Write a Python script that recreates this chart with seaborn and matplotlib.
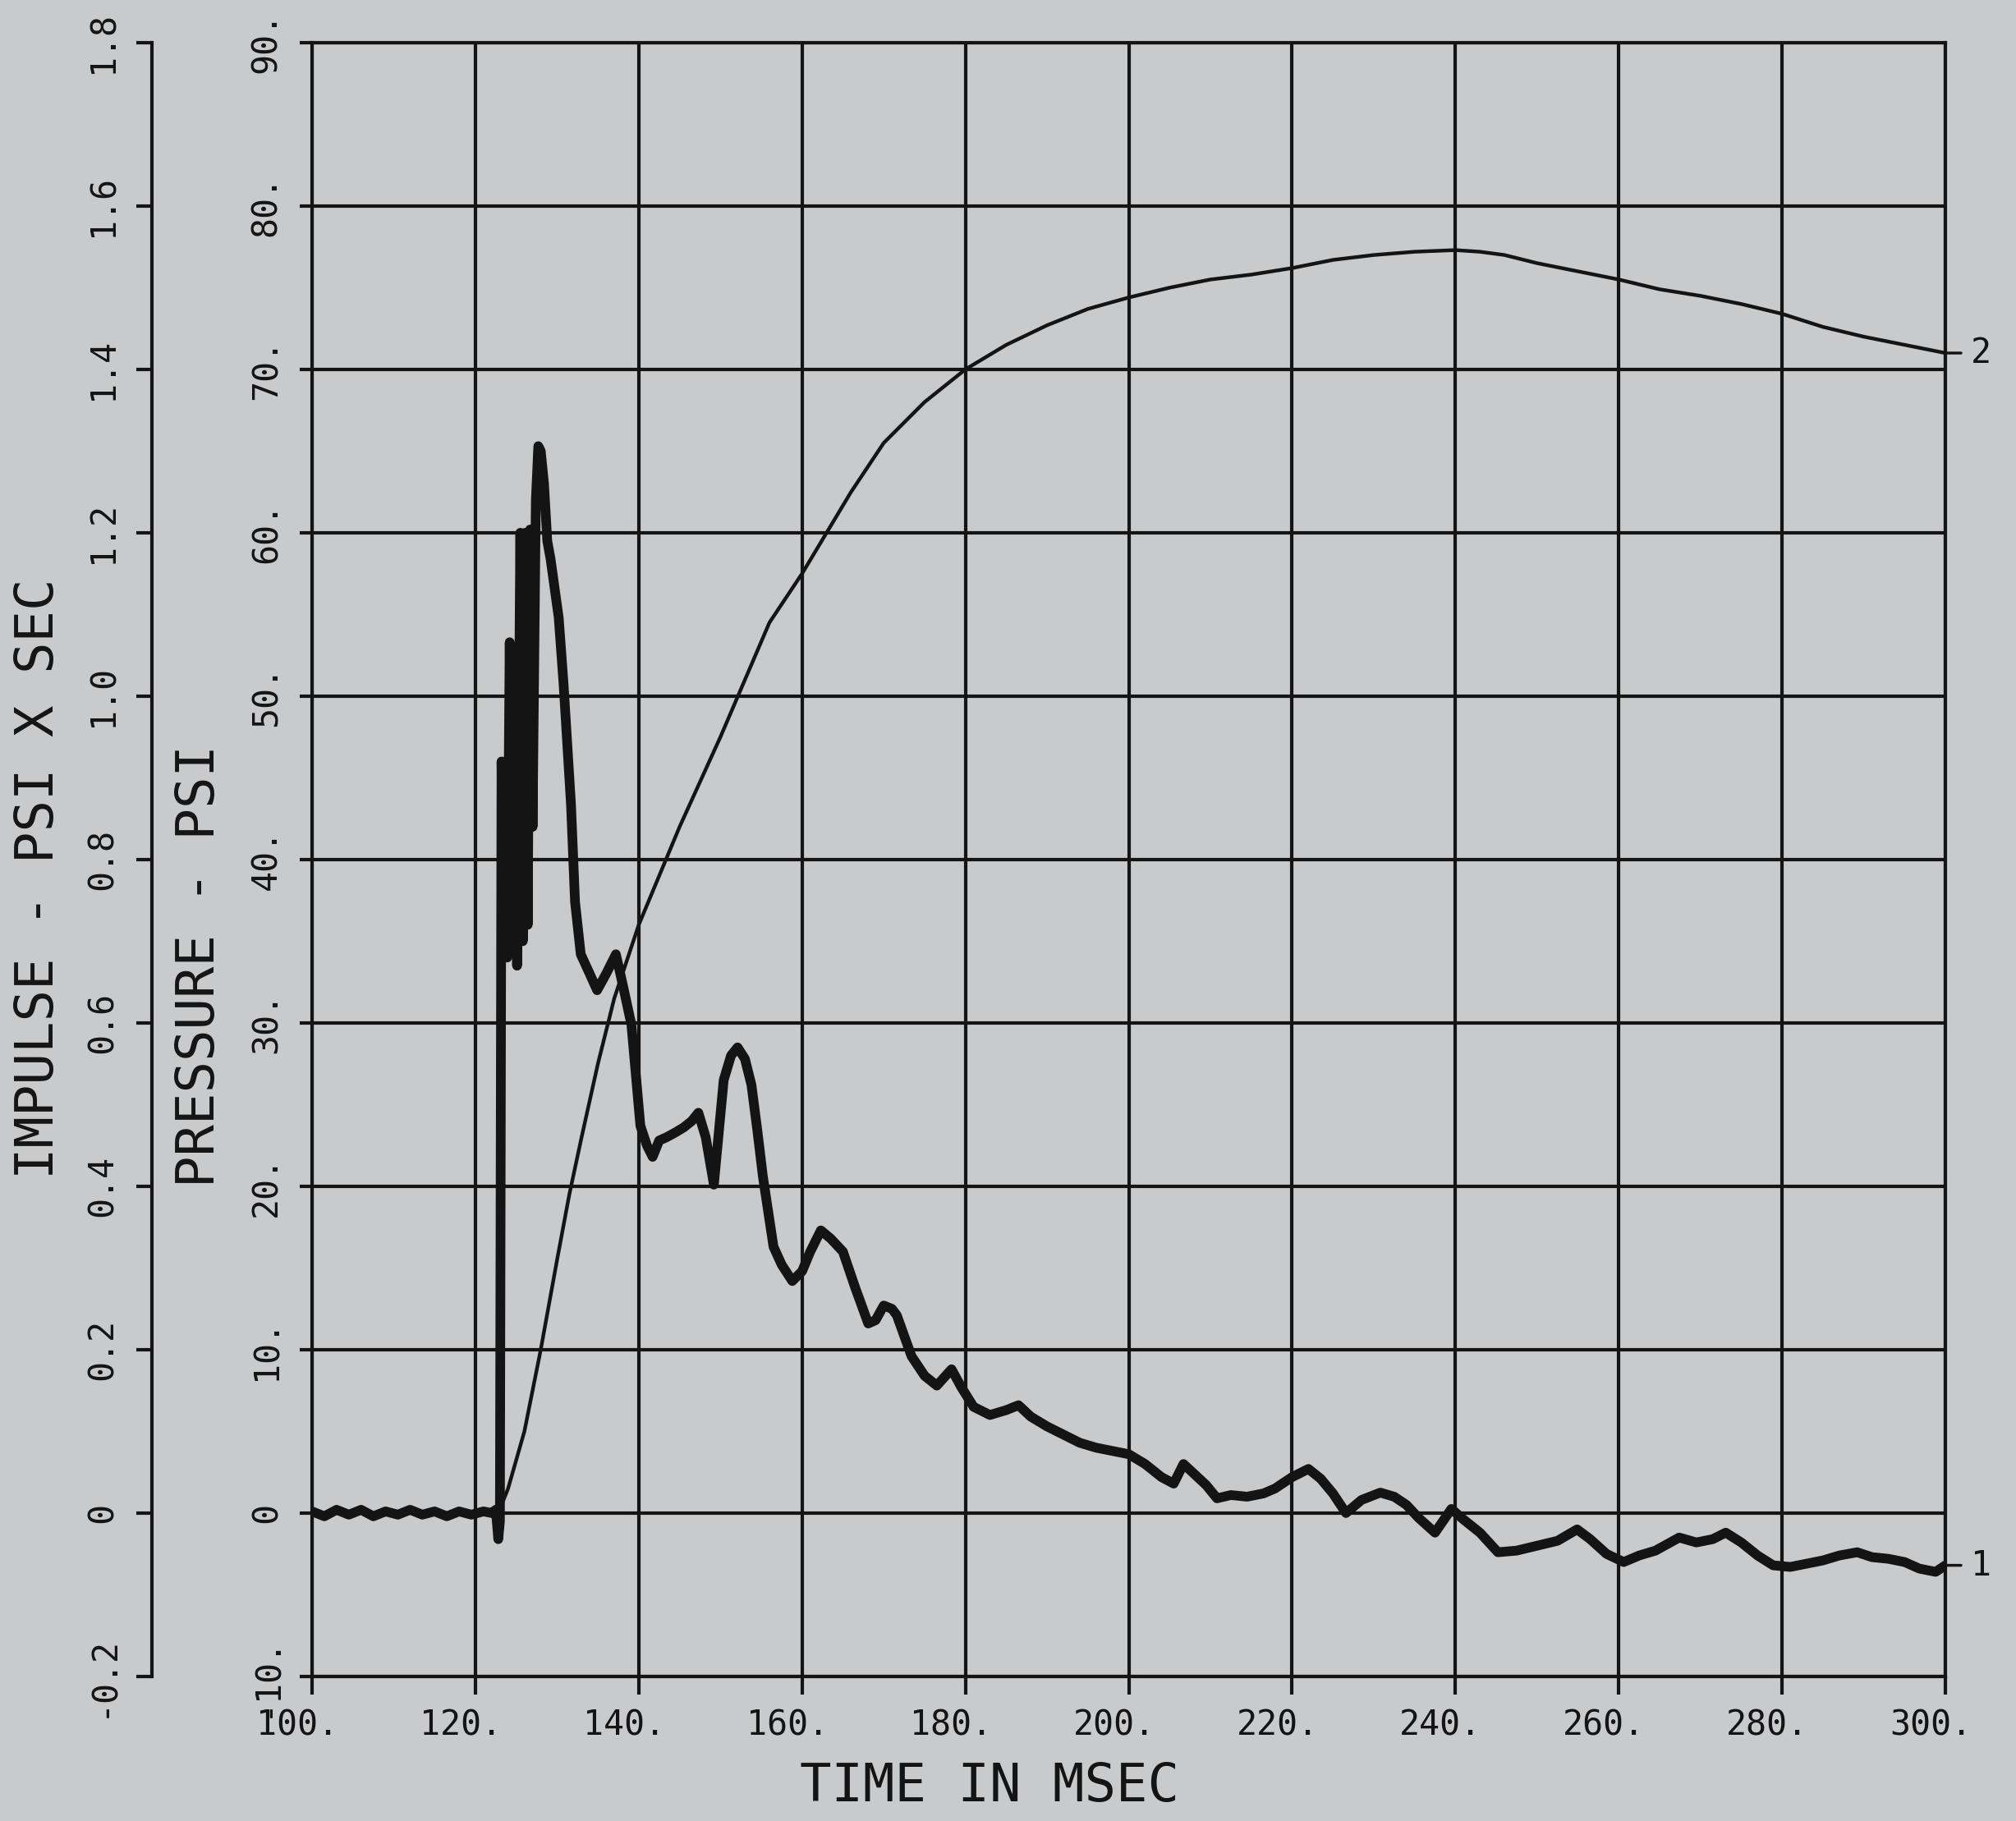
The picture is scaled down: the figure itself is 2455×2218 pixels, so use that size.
import matplotlib
matplotlib.use('Agg')
import matplotlib.pyplot as plt
import matplotlib.transforms as mtransforms
import pandas as pd
import seaborn as sns

# curve 1: pressure trace (psi)
pressure_time = [100.0, 101.5, 103.0, 104.5, 106.0, 107.5, 109.0, 110.5, 112.0, 113.5,
                 115.0, 116.5, 118.0, 119.5, 121.0, 122.0, 122.5, 122.8, 123.0, 123.2,
                 123.4, 123.6, 123.9, 124.2, 124.5, 124.8, 125.1, 125.5, 125.8, 126.1,
                 126.4, 126.7, 127.0, 127.4, 127.7, 128.0, 128.4, 128.8, 129.2, 130.2,
                 130.8, 131.7, 132.2, 132.9, 134.0, 134.9, 136.0, 137.2, 138.1, 139.1,
                 140.2, 141.0, 141.7, 142.5, 143.4, 144.5, 145.5, 146.5, 147.3, 148.2,
                 149.2, 150.4, 151.3, 152.1, 153.0, 153.8, 154.5, 155.2, 156.5, 157.5,
                 158.8, 160.0, 161.0, 162.3, 163.5, 165.0, 166.5, 168.1, 169.0, 170.0,
                 171.0, 171.6, 173.4, 175.0, 176.5, 178.3, 179.5, 181.0, 183.0, 185.0,
                 186.5, 188.0, 190.0, 192.0, 194.0, 196.0, 198.0, 200.0, 202.0, 204.0,
                 205.5, 206.7, 208.0, 209.5, 210.8, 212.5, 214.5, 216.5, 217.9, 220.0,
                 222.0, 223.5, 225.0, 226.6, 228.5, 230.8, 232.5, 234.0, 235.5, 237.5,
                 239.5, 241.0, 243.0, 245.2, 247.5, 250.0, 252.5, 254.9, 256.5, 258.5,
                 260.6, 262.5, 264.5, 267.4, 269.5, 271.5, 273.1, 275.0, 277.0, 278.9,
                 281.0, 283.0, 285.0, 287.0, 289.2, 291.0, 293.0, 295.0, 296.8, 298.8,
                 300.0]
pressure_psi = [0.1, -0.2, 0.2, -0.1, 0.2, -0.2, 0.1, -0.1, 0.2, -0.1,
                0.1, -0.2, 0.1, -0.1, 0.1, 0.0, 0.2, -1.6, -0.5, 46.0,
                36.0, 46.0, 34.0, 53.3, 35.0, 53.0, 33.5, 60.0, 35.0, 60.0,
                36.0, 60.2, 42.0, 62.0, 65.3, 65.0, 63.0, 59.5, 58.4, 54.8,
                50.7, 43.4, 37.4, 34.2, 33.0, 32.0, 33.0, 34.2, 32.2, 29.9,
                23.7, 22.5, 21.8, 22.8, 23.0, 23.3, 23.6, 24.0, 24.5, 23.0,
                20.1, 26.5, 28.0, 28.5, 27.8, 26.2, 23.5, 20.6, 16.3, 15.2,
                14.2, 14.8, 16.0, 17.3, 16.8, 16.0, 13.8, 11.6, 11.8, 12.7,
                12.5, 12.1, 9.6, 8.4, 7.8, 8.8, 7.7, 6.5, 6.0, 6.3,
                6.6, 5.9, 5.3, 4.8, 4.3, 4.0, 3.8, 3.6, 3.0, 2.2,
                1.8, 3.0, 2.4, 1.7, 0.9, 1.1, 1.0, 1.2, 1.5, 2.2,
                2.7, 2.1, 1.2, 0.0, 0.8, 1.25, 1.0, 0.5, -0.3, -1.2,
                0.25, -0.4, -1.2, -2.4, -2.3, -2.0, -1.7, -1.0, -1.6, -2.5,
                -3.0, -2.6, -2.3, -1.5, -1.8, -1.6, -1.2, -1.8, -2.6, -3.2,
                -3.3, -3.1, -2.9, -2.6, -2.4, -2.7, -2.8, -3.0, -3.4, -3.6,
                -3.2]

# curve 2: impulse (psi x sec)
impulse_time = [100, 122.8, 124, 126, 128, 130, 131.5, 133, 135, 137, 140, 145, 150,
                153, 156, 160, 163, 166, 170, 175, 180, 185, 190, 195, 200, 205, 210,
                215, 220, 225, 230, 235, 240, 243, 246, 250, 255, 260, 265, 270, 275,
                280, 285, 290, 295, 300]
impulse_psisec = [0.0, 0.0, 0.03, 0.10, 0.20, 0.31, 0.39, 0.46, 0.55, 0.63, 0.72, 0.84,
                  0.95, 1.02, 1.09, 1.15, 1.20, 1.25, 1.31, 1.36, 1.40, 1.43, 1.454,
                  1.474, 1.488, 1.50, 1.51, 1.516, 1.524, 1.534, 1.54, 1.544, 1.546,
                  1.544, 1.54, 1.53, 1.52, 1.51, 1.498, 1.49, 1.48, 1.468, 1.452, 1.44,
                  1.43, 1.42]

time_ticks = [100, 120, 140, 160, 180, 200, 220, 240, 260, 280, 300]
time_labels = ["100.", "120.", "140.", "160.", "180.", "200.", "220.", "240.", "260.", "280.", "300."]
pressure_ticks = [-10, 0, 10, 20, 30, 40, 50, 60, 70, 80, 90]
pressure_labels = ["-10.", "0", "10.", "20.", "30.", "40.", "50.", "60.", "70.", "80.", "90."]
impulse_ticks = [-0.2, 0.0, 0.2, 0.4, 0.6, 0.8, 1.0, 1.2, 1.4, 1.6, 1.8]
impulse_labels = ["-0.2", "0", "0.2", "0.4", "0.6", "0.8", "1.0", "1.2", "1.4", "1.6", "1.8"]

BG = '#c9cacc'
INK = '#141414'

sns.set_style("ticks")
plt.rcParams['font.family'] = ['DejaVu Sans Mono', 'DejaVu Sans']

df_p = pd.DataFrame({'t': pressure_time, 'p': pressure_psi})
df_i = pd.DataFrame({'t': impulse_time, 'i': impulse_psisec})

fig = plt.figure(figsize=(24.55, 22.18), dpi=100, facecolor=BG)
ax = fig.add_axes([0.1548, 0.0794, 0.8102, 0.8972], facecolor=BG)

# grid + frame
ax.set_xlim(100, 300)
ax.set_ylim(-10, 90)
ax.set_xticks(time_ticks)
ax.set_xticklabels(time_labels)
ax.set_yticks(pressure_ticks)
ax.set_yticklabels(pressure_labels)
ax.grid(True, color=INK, linewidth=3.0)
ax.set_axisbelow(True)
for s in ax.spines.values():
    s.set_color(INK)
    s.set_linewidth(3.0)
ax.tick_params(axis='x', direction='out', length=16, width=3, color=INK,
               labelsize=30, labelcolor=INK, pad=12)
ax.tick_params(axis='y', direction='out', length=11, width=3, color=INK,
               labelsize=30, labelcolor=INK, pad=14, labelrotation=90)
for lab in ax.get_yticklabels():
    lab.set_va('center')
# plotter labels sit slightly left of the tick
shift = mtransforms.ScaledTranslation(-18 / 100, 0, fig.dpi_scale_trans)
for lab in ax.get_xticklabels():
    lab.set_transform(lab.get_transform() + shift)

sns.lineplot(data=df_p, x='t', y='p', ax=ax, color=INK, linewidth=8.5,
             estimator=None, errorbar=None, sort=False)

# impulse axis (outer left)
ax2 = ax.twinx()
ax2.set_ylim(-0.2, 1.8)
ax2.set_yticks(impulse_ticks)
ax2.set_yticklabels(impulse_labels)
ax2.patch.set_visible(False)
ax2.yaxis.set_ticks_position('left')
ax2.yaxis.set_label_position('left')
ax2.spines['left'].set_position(('axes', -0.098))
for k in ['right', 'top', 'bottom']:
    ax2.spines[k].set_visible(False)
ax2.spines['left'].set_color(INK)
ax2.spines['left'].set_linewidth(3.0)
ax2.tick_params(axis='y', direction='out', length=14, width=3, color=INK,
                labelsize=30, labelcolor=INK, pad=14, labelrotation=90)
for lab in ax2.get_yticklabels():
    lab.set_va('center')

sns.lineplot(data=df_i, x='t', y='i', ax=ax2, color=INK, linewidth=3.2,
             estimator=None, errorbar=None, sort=False)

ax.set_xlabel('')
ax.set_ylabel('')
ax2.set_xlabel('')
ax2.set_ylabel('')

# curve ids at right edge
for a, tt, vv, name in [(ax, pressure_time[-1], pressure_psi[-1], '1'),
                        (ax2, impulse_time[-1], impulse_psisec[-1], '2')]:
    a.annotate(name, xy=(tt, vv), xytext=(22, 0), textcoords='offset points',
               fontsize=30, color=INK, va='center', ha='left', annotation_clip=False,
               arrowprops=dict(arrowstyle='-', color=INK, lw=2.5, shrinkA=6, shrinkB=0))

fig.text(243 / 2455, 1 - 1176 / 2218, 'PRESSURE - PSI', rotation=90, fontsize=46,
         color=INK, ha='center', va='center')
fig.text(47 / 2455, 1 - 1070 / 2218, 'IMPULSE - PSI X SEC', rotation=90, fontsize=46,
         color=INK, ha='center', va='center')
fig.text(1205 / 2455, 1 - 2176 / 2218, 'TIME IN MSEC', fontsize=46,
         color=INK, ha='center', va='center')

fig.savefig('out.png', dpi=100, facecolor=BG)
